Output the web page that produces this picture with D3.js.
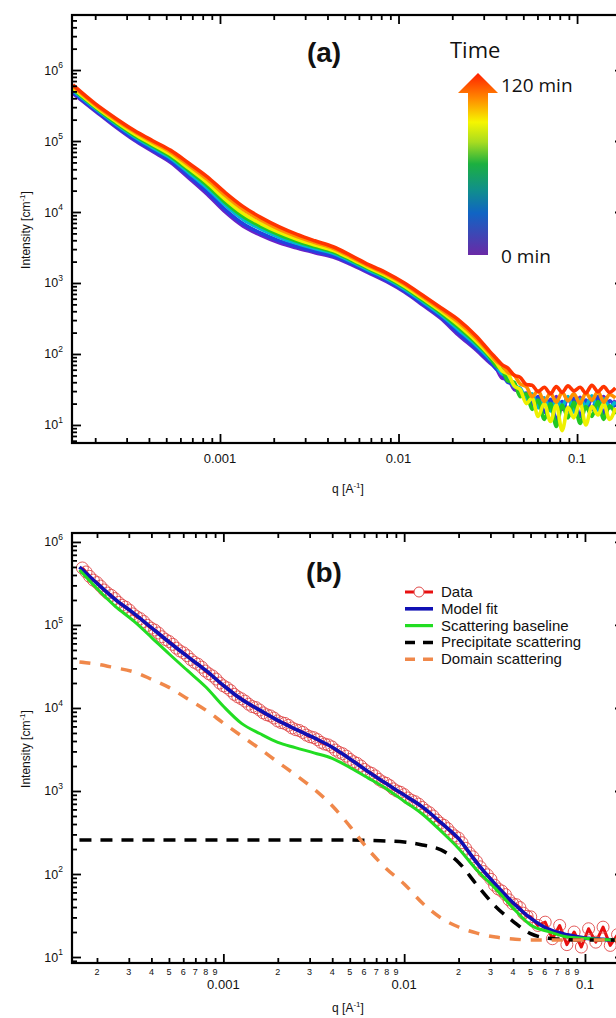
<!DOCTYPE html>
<html>
<head>
<meta charset="utf-8">
<script src="https://cdn.jsdelivr.net/npm/d3@7"></script>
<style>
  body { margin: 0; background: #fff; }
  svg { display: block; }
  text { font-family: "Liberation Sans", Arial, sans-serif; fill: #111; }
</style>
</head>
<body>
<svg id="fig" width="616" height="1018"></svg>
<script>
// ---------------- Panel (a): time-resolved scattering curves ----------------
const qTime = [1.5e-4, 2.0e-4, 2.6e-4, 3.3e-4, 4.2e-4, 5.3e-4, 6.7e-4, 8.5e-4, 1.07e-3, 1.35e-3,
  1.7e-3, 2.15e-3, 2.7e-3, 3.4e-3, 4.3e-3, 5.4e-3, 6.8e-3, 8.6e-3, 0.0108, 0.0136,
  0.0172, 0.0216, 0.0272, 0.0325, 0.0352, 0.038, 0.041, 0.0445, 0.048, 0.052,
  0.056, 0.0605, 0.0655, 0.071, 0.0765, 0.0825, 0.089, 0.096, 0.104, 0.112,
  0.121, 0.131, 0.141, 0.152, 0.164];

const timeMinutes = [0, 20, 40, 60, 80, 100, 120];
const timeColors = ["#6a22c8", "#2440e0", "#00b8d0", "#22c822", "#eef000", "#ff9000", "#ff3400"];

const I_t0 = [4.68e5, 2.65e5, 1.58e5, 1.03e5, 7.11e4, 4.99e4, 3.01e4, 1.77e4, 1.00e4, 6310,
  4690, 3680, 3100, 2670, 2320, 1830, 1390, 1040, 745, 494,
  320, 186, 114, 75.0, 63.1, 45.7, 43.7, 31.6, 29.5, 22.9,
  26.3, 18.2, 24.0, 17.4, 25.1, 16.6, 23.4, 17.8, 24.5, 17.0,
  22.9, 18.6, 25.1, 17.4, 22.4];
const I_t20 = [4.83e5, 2.72e5, 1.64e5, 1.07e5, 7.41e4, 5.22e4, 3.18e4, 1.90e4, 1.08e4, 6810,
  5020, 3920, 3270, 2790, 2420, 1900, 1440, 1080, 771, 513,
  333, 198, 120, 78.3, 61.7, 53.7, 39.8, 38.0, 26.3, 28.2,
  19.1, 25.1, 15.1, 22.9, 11.2, 21.4, 15.8, 24.0, 13.2, 22.4,
  16.6, 25.1, 14.5, 21.9, 17.8];
const I_t40 = [5.15e5, 2.88e5, 1.75e5, 1.16e5, 8.05e4, 5.73e4, 3.56e4, 2.16e4, 1.25e4, 7870,
  5740, 4410, 3620, 3050, 2610, 2030, 1520, 1150, 826, 552,
  361, 221, 133, 85.3, 69.2, 52.5, 49.0, 34.7, 33.1, 22.9,
  27.5, 17.4, 24.0, 15.8, 22.4, 18.2, 25.1, 15.1, 22.9, 18.6,
  25.7, 16.2, 23.4, 17.8, 21.4];
const I_t60 = [5.37e5, 2.99e5, 1.82e5, 1.21e5, 8.49e4, 6.07e4, 3.83e4, 2.36e4, 1.37e4, 8650,
  6250, 4760, 3870, 3240, 2740, 2120, 1590, 1200, 865, 579,
  381, 238, 143, 90.2, 67.6, 60.3, 41.7, 39.8, 25.1, 27.5,
  16.6, 22.4, 12.0, 20.0, 9.55, 19.1, 12.6, 20.9, 10.5, 18.2,
  13.2, 21.4, 12.0, 18.6, 14.1];
const I_t80 = [5.60e5, 3.09e5, 1.91e5, 1.27e5, 8.95e4, 6.44e4, 4.11e4, 2.57e4, 1.51e4, 9510,
  6820, 5150, 4130, 3430, 2880, 2210, 1650, 1250, 904, 607,
  401, 256, 152, 95.1, 75.9, 57.5, 52.5, 35.5, 31.6, 20.0,
  24.0, 13.2, 20.0, 11.2, 19.1, 8.32, 17.8, 12.6, 20.9, 10.0,
  18.2, 13.8, 20.0, 12.0, 17.4];
const I_t100 = [5.92e5, 3.24e5, 2.01e5, 1.36e5, 9.62e4, 6.97e4, 4.53e4, 2.88e4, 1.71e4, 1.08e4,
  7660, 5700, 4520, 3710, 3080, 2340, 1740, 1320, 959, 646,
  430, 283, 167, 102, 79.4, 69.2, 55.0, 50.1, 38.0, 34.7,
  25.1, 30.2, 21.4, 28.2, 20.9, 28.8, 21.9, 27.5, 20.0, 28.2,
  22.4, 29.5, 20.9, 26.9, 24.0];
const I_t120 = [6.17e5, 3.36e5, 2.10e5, 1.42e5, 1.01e5, 7.38e4, 4.86e4, 3.13e4, 1.88e4, 1.19e4,
  8340, 6170, 4830, 3930, 3240, 2450, 1810, 1380, 1000, 678,
  453, 305, 179, 108, 87.1, 70.8, 63.1, 50.1, 46.8, 37.2,
  36.3, 29.5, 33.9, 27.5, 34.7, 28.8, 35.5, 30.2, 33.9, 28.2,
  36.3, 29.5, 34.7, 28.8, 33.1];

// ---------------- Panel (b): single curve with model decomposition ----------------
const qFit = [1.6e-4, 2e-4, 2.5e-4, 3.2e-4, 4e-4, 5e-4, 6.3e-4, 8e-4, 1e-3, 1.26e-3,
  1.6e-3, 2e-3, 2.5e-3, 3.2e-3, 4e-3, 5e-3, 6.3e-3, 8e-3, 0.01, 0.0126,
  0.016, 0.02, 0.025, 0.032, 0.04, 0.05, 0.063, 0.08, 0.1, 0.126, 0.15];
const modelFit = [5.00e5, 3.18e5, 2.06e5, 1.38e5, 9.27e4, 6.24e4, 4.21e4, 2.83e4, 1.87e4, 1.27e4,
  9350, 7080, 5550, 4330, 3370, 2440, 1720, 1220, 893, 643,
  415, 267, 140, 74.6, 45.1, 29.4, 21.6, 18.5, 16.9, 16.3, 16.0];
const scatteringBaseline = [4.60e5, 2.75e5, 1.71e5, 1.11e5, 7.10e4, 4.50e4, 2.85e4, 1.79e4, 1.05e4, 6530,
  4890, 3860, 3330, 2860, 2470, 1920, 1440, 1060, 753, 528,
  328, 203, 114, 66.7, 39.1, 24.3, 20.2, 17.4, 16.8, 16.2, 16.0];
const precipitateScattering = [257, 257, 257, 257, 257, 257, 257, 257, 257, 257,
  257, 257, 257, 257, 257, 257, 254, 250, 243, 224,
  195, 138, 75.9, 40.7, 26.9, 19.1, 16.8, 16.2, 16.0, 16.0, 16.0];
const domainScattering = [3.58e4, 3.37e4, 3.06e4, 2.72e4, 2.22e4, 1.77e4, 1.30e4, 9420, 6590, 4600,
  3200, 2230, 1570, 1040, 664, 378, 200, 115, 75.9, 44.8,
  29.5, 23.0, 19.5, 17.4, 16.5, 16.0, 16.0, 16.0, 16.0, 16.0, 16.0];

const qData = [
  1.66e-4, 1.74e-4, 1.82e-4, 1.91e-4, 2.00e-4, 2.09e-4, 2.19e-4, 2.29e-4, 2.40e-4, 2.51e-4,
  2.63e-4, 2.75e-4, 2.88e-4, 3.02e-4, 3.16e-4, 3.31e-4, 3.47e-4, 3.63e-4, 3.80e-4, 3.98e-4,
  4.17e-4, 4.37e-4, 4.57e-4, 4.79e-4, 5.01e-4, 5.25e-4, 5.50e-4, 5.75e-4, 6.03e-4, 6.31e-4,
  6.61e-4, 6.92e-4, 7.24e-4, 7.59e-4, 7.94e-4, 8.32e-4, 8.71e-4, 9.12e-4, 9.55e-4, 1.000e-3,
  1.047e-3, 1.096e-3, 1.148e-3, 1.202e-3, 1.259e-3, 1.318e-3, 1.380e-3, 1.445e-3, 1.514e-3, 1.585e-3,
  1.660e-3, 1.738e-3, 1.820e-3, 1.905e-3, 1.995e-3, 2.089e-3, 2.188e-3, 2.291e-3, 2.399e-3, 2.512e-3,
  2.630e-3, 2.754e-3, 2.884e-3, 3.020e-3, 3.162e-3, 3.311e-3, 3.467e-3, 3.631e-3, 3.802e-3, 3.981e-3,
  4.169e-3, 4.365e-3, 4.571e-3, 4.786e-3, 5.012e-3, 5.248e-3, 5.495e-3, 5.754e-3, 6.026e-3, 6.310e-3,
  6.607e-3, 6.918e-3, 7.244e-3, 7.586e-3, 7.943e-3, 8.318e-3, 8.710e-3, 9.120e-3, 9.550e-3, 0.0100,
  0.01047, 0.01096, 0.01148, 0.01202, 0.01259, 0.01318, 0.01380, 0.01445, 0.01514, 0.01585,
  0.01660, 0.01738, 0.01820, 0.01905, 0.01995, 0.02089, 0.02188, 0.02291, 0.02399, 0.02512,
  0.02630, 0.02754, 0.02884, 0.03020, 0.03162, 0.03311, 0.03467, 0.03631, 0.03802, 0.03981,
  0.04169, 0.04365, 0.04571, 0.04786, 0.05012, 0.05495, 0.06026, 0.06607, 0.07244, 0.07943,
  0.08710, 0.09550, 0.1047, 0.1148, 0.1259, 0.1380, 0.1514];
const dataIntensity = [
  4.86e5, 4.35e5, 3.85e5, 3.47e5, 3.24e5, 2.94e5, 2.64e5, 2.42e5, 2.27e5, 2.08e5,
  1.87e5, 1.73e5, 1.64e5, 1.51e5, 1.36e5, 1.26e5, 1.19e5, 1.10e5, 9.89e4, 9.16e4,
  8.69e4, 8.00e4, 7.21e4, 6.67e4, 6.32e4, 5.83e4, 5.26e4, 4.86e4, 4.61e4, 4.26e4,
  3.84e4, 3.55e4, 3.37e4, 3.10e4, 2.79e4, 2.58e4, 2.43e4, 2.23e4, 2.00e4, 1.85e4,
  1.75e4, 1.62e4, 1.46e4, 1.36e4, 1.29e4, 1.21e4, 1.11e4, 1.04e4, 1.01e4, 9460,
  8730, 8280, 8020, 7570, 6980, 6670, 6520, 6180, 5740, 5480,
  5350, 5080, 4710, 4500, 4390, 4160, 3850, 3680, 3590, 3400,
  3110, 2920, 2810, 2630, 2400, 2250, 2150, 2000, 1820, 1700,
  1630, 1520, 1380, 1290, 1240, 1160, 1060, 1000, 964, 904,
  824, 774, 743, 695, 634, 582, 547, 500, 447, 410,
  385, 352, 314, 288, 271, 238, 204, 179, 161, 142,
  122, 107, 97.7, 86.3, 73.3, 66.1, 62.4, 56.5, 48.8, 43.9,
  42.7, 39.4, 33.7, 30.9, 30.5, 24.0, 26.3, 16.6, 24.0, 14.1,
  20.0, 13.2, 21.9, 15.1, 22.9, 13.8, 18.6];

// axis labels
const yTickExponents = [1, 2, 3, 4, 5, 6];
const xMajorValues = [0.001, 0.01, 0.1];
const xMajorLabels = ["0.001", "0.01", "0.1"];
const legendLabels = ["Data", "Model fit", "Scattering baseline", "Precipitate scattering", "Domain scattering"];

// ---------------- drawing ----------------
const svg = d3.select("#fig");
const defs = svg.append("defs");

const boxA = { left: 72, right: 624, top: 15, bottom: 443 };
const boxB = { left: 72, right: 624, top: 533, bottom: 963 };

const xA = d3.scaleLog().domain([1.483e-4, 0.1832]).range([boxA.left, boxA.right]);
const yA = d3.scaleLog().domain([5.57, 5.96e6]).range([boxA.bottom, boxA.top]);
const xB = d3.scaleLog().domain([1.455e-4, 0.1644]).range([boxB.left, boxB.right]);
const yB = d3.scaleLog().domain([8.47, 1.282e6]).range([boxB.bottom, boxB.top]);

function isDecade(v) {
  const e = Math.log10(v);
  return Math.abs(e - Math.round(e)) < 1e-6;
}

function addClip(id, box) {
  defs.append("clipPath").attr("id", id).append("rect")
    .attr("x", box.left).attr("y", box.top)
    .attr("width", box.right - box.left).attr("height", box.bottom - box.top);
}
addClip("clipA", boxA);
addClip("clipB", boxB);

function drawAxes(x, y, box, minorLabels) {
  const g = svg.append("g");
  const xt = x.ticks(), yt = y.ticks();
  const xMaj = xt.filter(isDecade), xMin = xt.filter(v => !isDecade(v));
  const yMaj = yt.filter(isDecade), yMin = yt.filter(v => !isDecade(v));

  const tickGroup = (axis, transform) => {
    const a = g.append("g").attr("transform", transform).call(axis.tickFormat(""));
    a.select(".domain").remove();
    a.selectAll("line").attr("stroke", "#000").attr("stroke-width", 1.8);
  };
  // ticks point inward on all four sides
  tickGroup(d3.axisTop(x).tickValues(xMaj).tickSize(9), `translate(0,${box.bottom})`);
  tickGroup(d3.axisTop(x).tickValues(xMin).tickSize(5), `translate(0,${box.bottom})`);
  tickGroup(d3.axisBottom(x).tickValues(xMaj).tickSize(9), `translate(0,${box.top})`);
  tickGroup(d3.axisBottom(x).tickValues(xMin).tickSize(5), `translate(0,${box.top})`);
  tickGroup(d3.axisRight(y).tickValues(yMaj).tickSize(9), `translate(${box.left},0)`);
  tickGroup(d3.axisRight(y).tickValues(yMin).tickSize(5), `translate(${box.left},0)`);
  tickGroup(d3.axisLeft(y).tickValues(yMaj).tickSize(9), `translate(${box.right},0)`);
  tickGroup(d3.axisLeft(y).tickValues(yMin).tickSize(5), `translate(${box.right},0)`);

  g.append("rect")
    .attr("x", box.left).attr("y", box.top)
    .attr("width", box.right - box.left).attr("height", box.bottom - box.top)
    .attr("fill", "none").attr("stroke", "#000").attr("stroke-width", 2.2);

  // y labels 10^n
  yTickExponents.forEach(e => {
    const t = g.append("text")
      .attr("x", box.left - 9).attr("y", y(Math.pow(10, e)) + 4.5)
      .attr("text-anchor", "end").attr("font-size", 12.5);
    t.append("tspan").text("10");
    t.append("tspan").attr("dy", -6.5).attr("font-size", 8.5).text(e);
  });

  // x major labels
  const majorY = minorLabels ? box.bottom + 26 : box.bottom + 19.5;
  xMajorValues.forEach((v, i) => {
    g.append("text").attr("x", x(v)).attr("y", majorY)
      .attr("text-anchor", "middle").attr("font-size", 13).text(xMajorLabels[i]);
  });

  if (minorLabels) {
    xMin.forEach(v => {
      const d = Math.round(v / Math.pow(10, Math.floor(Math.log10(v) + 1e-9)));
      g.append("text").attr("x", x(v)).attr("y", box.bottom + 11.5)
        .attr("text-anchor", "middle").attr("font-size", 9).text(d);
    });
  }

  // axis titles
  const xt2 = g.append("text").attr("x", 348).attr("y", minorLabels ? box.bottom + 49 : box.bottom + 50)
    .attr("text-anchor", "middle").attr("font-size", 12);
  xt2.append("tspan").text("q [A");
  xt2.append("tspan").attr("dy", -5).attr("font-size", 8).text("-1");
  xt2.append("tspan").attr("dy", 5).text("]");

  const cy = (box.top + box.bottom) / 2;
  const yt2 = g.append("text")
    .attr("transform", `translate(30,${cy + 1}) rotate(-90)`)
    .attr("text-anchor", "middle").attr("font-size", 12);
  yt2.append("tspan").text("Intensity [cm");
  yt2.append("tspan").attr("dy", -5).attr("font-size", 8).text("-1");
  yt2.append("tspan").attr("dy", 5).text("]");
}

// ---- panel (a) curves ----
const seriesA = [I_t0, I_t20, I_t40, I_t60, I_t80, I_t100, I_t120];
const lineA = d3.line().x(d => xA(d[0])).y(d => yA(d[1])).curve(d3.curveMonotoneX);
const gA = svg.append("g").attr("clip-path", "url(#clipA)");
seriesA.forEach((vals, k) => {
  gA.append("path")
    .datum(qTime.map((q, i) => [q, vals[i]]))
    .attr("d", lineA)
    .attr("fill", "none")
    .attr("stroke", timeColors[k])
    .attr("stroke-width", 3.6)
    .attr("stroke-linejoin", "round");
});
drawAxes(xA, yA, boxA, false);

svg.append("text").attr("x", 324).attr("y", 62).attr("text-anchor", "middle")
  .attr("font-size", 28).attr("font-weight", "bold").text("(a)");

// time arrow legend
const grad = defs.append("linearGradient").attr("id", "timeGrad")
  .attr("gradientUnits", "userSpaceOnUse").attr("x1", 0).attr("x2", 0).attr("y1", 73).attr("y2", 255);
[[0, "#ff1e00"], [0.14, "#ff8a00"], [0.27, "#f6f600"], [0.38, "#a8dc20"], [0.5, "#1cb040"],
 [0.64, "#10908a"], [0.77, "#1064c4"], [1, "#6a2aa6"]].forEach(s => {
  grad.append("stop").attr("offset", s[0]).attr("stop-color", s[1]);
});
svg.append("path")
  .attr("d", "M478,73 L498,93 L488,93 L488,255 L468,255 L468,93 L458,93 Z")
  .attr("fill", "url(#timeGrad)");
svg.append("text").attr("x", 450).attr("y", 58).attr("font-size", 22)
  .style("font-family", "'Open Sans', sans-serif").text("Time");
svg.append("text").attr("x", 501).attr("y", 92).attr("font-size", 19)
  .style("font-family", "'Open Sans', sans-serif").text(timeMinutes[timeMinutes.length - 1] + " min");
svg.append("text").attr("x", 501).attr("y", 263).attr("font-size", 19)
  .style("font-family", "'Open Sans', sans-serif").text(timeMinutes[0] + " min");

// ---- panel (b) curves ----
const gB = svg.append("g").attr("clip-path", "url(#clipB)");
const lineB = d3.line().x(d => xB(d[0])).y(d => yB(d[1]));
const smoothB = d3.line().x(d => xB(d[0])).y(d => yB(d[1])).curve(d3.curveMonotoneX);
const dataPts = qData.map((q, i) => [q, dataIntensity[i]]);

gB.append("path").datum(dataPts).attr("d", lineB)
  .attr("fill", "none").attr("stroke", "#e81010").attr("stroke-width", 3).attr("stroke-linejoin", "round");
gB.selectAll("circle.data").data(dataPts).join("circle")
  .attr("class", "data")
  .attr("cx", d => xB(d[0])).attr("cy", d => yB(d[1])).attr("r", 6)
  .attr("fill", "none").attr("stroke", "#e04a4a").attr("stroke-width", 0.9);

const fitSeries = [
  { vals: modelFit, color: "#1010b4", width: 3.6, dash: null },
  { vals: scatteringBaseline, color: "#22dd22", width: 3, dash: null },
  { vals: precipitateScattering, color: "#000000", width: 3.5, dash: "12 9" },
  { vals: domainScattering, color: "#f0884a", width: 3.5, dash: "11 10" }
];
fitSeries.forEach(s => {
  gB.append("path").datum(qFit.map((q, i) => [q, s.vals[i]]))
    .attr("d", smoothB).attr("fill", "none")
    .attr("stroke", s.color).attr("stroke-width", s.width)
    .attr("stroke-dasharray", s.dash);
});
drawAxes(xB, yB, boxB, true);

svg.append("text").attr("x", 324).attr("y", 582).attr("text-anchor", "middle")
  .attr("font-size", 28).attr("font-weight", "bold").text("(b)");

// legend
const legendStyles = [
  { color: "#e81010", width: 3, dash: null, marker: true },
  { color: "#1010b4", width: 3.6, dash: null },
  { color: "#22dd22", width: 3.2, dash: null },
  { color: "#000000", width: 3.5, dash: "10 8" },
  { color: "#f0884a", width: 3.5, dash: "10 8" }
];
const lg = svg.append("g");
legendLabels.forEach((lab, i) => {
  const cy = 592 + i * 16.8;
  const st = legendStyles[i];
  lg.append("line").attr("x1", 405).attr("x2", 433).attr("y1", cy).attr("y2", cy)
    .attr("stroke", st.color).attr("stroke-width", st.width).attr("stroke-dasharray", st.dash);
  if (st.marker) {
    lg.append("circle").attr("cx", 419).attr("cy", cy).attr("r", 5)
      .attr("fill", "#fff").attr("stroke", "#e04a4a").attr("stroke-width", 1);
  }
  lg.append("text").attr("x", 441).attr("y", cy + 5).attr("font-size", 15).text(lab);
});
</script>
</body>
</html>
